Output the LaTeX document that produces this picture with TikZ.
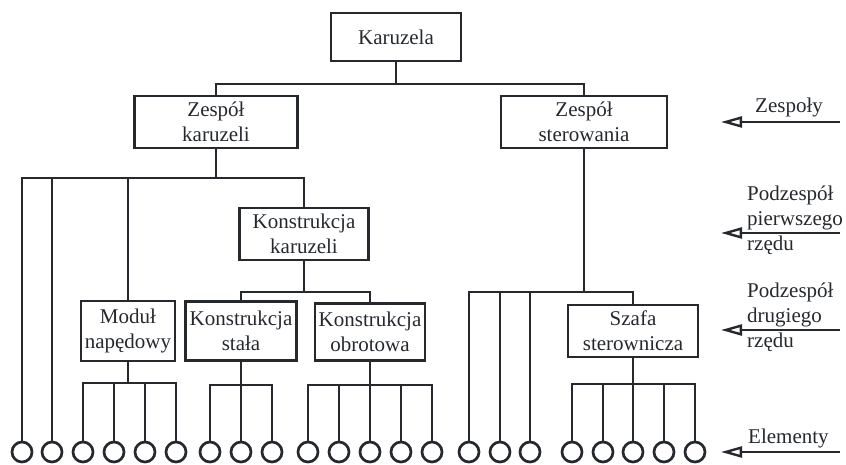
\documentclass[tikz,border=0pt]{standalone}
\usepackage{fontspec}
\setmainfont{Liberation Serif}
\usepackage{tikz}
\usetikzlibrary{arrows.meta,positioning,calc}
\definecolor{karink}{HTML}{25292E}
\tikzset{
  unitbox/.style={draw=karink, text=karink, line width=2.7pt, align=center, inner sep=2pt, font=\fontsize{21}{25}\selectfont},
  elem/.style={circle, draw=karink, line width=2.7pt, minimum size=20pt, inner sep=0pt},
  link/.style={draw=karink, line width=2.7pt},
  pointer/.style={-{Triangle[open,length=21pt,width=11pt]}, draw=karink, line width=2.4pt},
  levellabel/.style={text=karink, align=left, inner sep=0pt, font=\fontsize{21}{25}\selectfont}
}
\begin{document}
\begin{tikzpicture}[x=1pt, y=-1pt]
  \useasboundingbox (0,0) rectangle (846,465);
  % zespoly
  \node[unitbox, minimum width=130pt, minimum height=48pt] (kar) at (396,37) {Karuzela};
  \node[unitbox, minimum width=163pt, minimum height=52pt] (zk) at (216,122) {Zespół\\karuzeli};
  \node[unitbox, minimum width=166pt, minimum height=52pt] (zs) at (584,122) {Zespół\\sterowania};
  % podzespoly
  \node[unitbox, minimum width=129pt, minimum height=52pt] (kk) at (304,234) {Konstrukcja\\karuzeli};
  \node[unitbox, minimum width=94pt, minimum height=60pt] (mn) at (128,331) {Moduł\\napędowy};
  \node[unitbox, minimum width=111pt, minimum height=59pt] (ks) at (241,331) {Konstrukcja\\stała};
  \node[unitbox, minimum width=110pt, minimum height=57pt] (ko) at (370,332) {Konstrukcja\\obrotowa};
  \node[unitbox, minimum width=130pt, minimum height=52pt] (sz) at (633,331) {Szafa\\sterownicza};
  % elementy
  \foreach \x [count=\i] in {22,52,83,114,145,176,210,241,272,308,339,370,401,432,469,500,530,572,603,633,664,695}
    \node[elem] (e\i) at (\x,452) {};

  % szyny
  \coordinate (b0) at (396,84);
  \coordinate (b1) at (216,178);
  \coordinate (b2) at (304,292);
  \coordinate (b3) at (128,383);
  \coordinate (b4) at (241,385);
  \coordinate (b5) at (370,385);
  \coordinate (b6) at (584,292);
  \coordinate (b7) at (633,384);

  \draw[link] (kar) -- (b0);
  \draw[link] (b0) -| (zk);
  \draw[link] (b0) -| (zs);
  \draw[link] (zk) -- (b1);
  \draw[link] (b1) -| (e1);
  \draw[link] (b1) -| (e2);
  \draw[link] (b1) -| (mn);
  \draw[link] (b1) -| (kk);
  \draw[link] (kk) -- (b2);
  \draw[link] (b2) -| (ks);
  \draw[link] (b2) -| (ko);
  \draw[link] (mn) -- (b3);
  \foreach \i in {3,...,6} \draw[link] (b3) -| (e\i);
  \draw[link] (ks) -- (b4);
  \foreach \i in {7,...,9} \draw[link] (b4) -| (e\i);
  \draw[link] (ko) -- (b5);
  \foreach \i in {10,...,14} \draw[link] (b5) -| (e\i);
  \draw[link] (zs) -- (b6);
  \foreach \i in {15,16,17} \draw[link] (b6) -| (e\i);
  \draw[link] (b6) -| (sz);
  \draw[link] (sz) -- (b7);
  \foreach \i in {18,...,22} \draw[link] (b7) -| (e\i);

  % poziomy
  \coordinate (p1a) at (840,122);  \coordinate (p1b) at (721,122);
  \coordinate (p2a) at (840,233);  \coordinate (p2b) at (721,233);
  \coordinate (p3a) at (840,330);  \coordinate (p3b) at (721,330);
  \coordinate (p4a) at (840,452);  \coordinate (p4b) at (721,452);
  \draw[pointer] (p1a) -- (p1b);
  \draw[pointer] (p2a) -- (p2b);
  \draw[pointer] (p3a) -- (p3b);
  \draw[pointer] (p4a) -- (p4b);
  \node[levellabel, anchor=base west] (l1) at (755,113) {Zespoły};
  \node[levellabel, anchor=north west] (l2) at (747,186) {Podzespół\\pierwszego\\rzędu};
  \node[levellabel, anchor=north west] (l3) at (747,283) {Podzespół\\drugiego\\rzędu};
  \node[levellabel, anchor=base west] (l4) at (748,443) {Elementy};
\end{tikzpicture}
\end{document}
